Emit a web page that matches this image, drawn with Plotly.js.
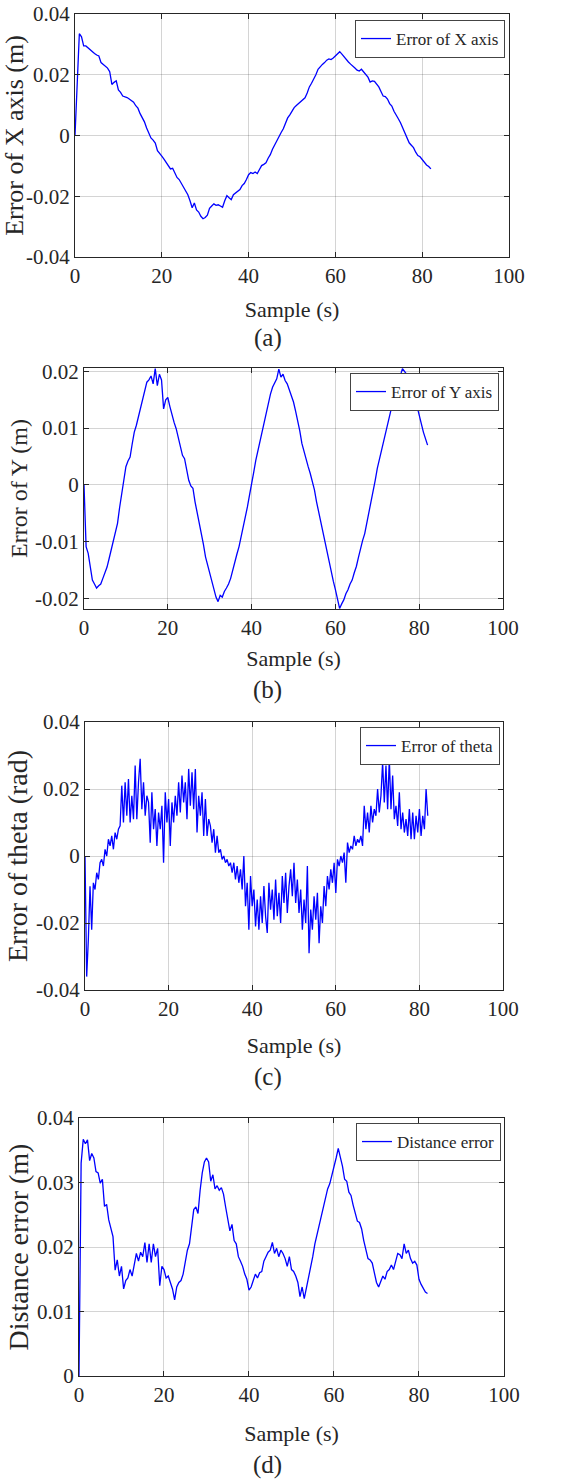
<!DOCTYPE html>
<html><head><meta charset="utf-8">
<script src="https://cdn.plot.ly/plotly-3.0.1.min.js"></script>
<style>html,body{margin:0;padding:0;background:#fff}#chart{width:565px;height:1479px}</style>
</head><body><div id="chart"></div>
<script>
// sample time axis: starts at 0 s; X/Y/distance sampled every 0.5 s, theta every 0.4 s
const sampleStart = 0;
const stepXYD = 0.5;
const stepTheta = 0.4;

const errX = [
  0, 0.020, 0.0335, 0.0325, 0.0295, 0.0295, 0.0288, 0.0282, 0.0276, 0.0270,
  0.0265, 0.0262, 0.0240, 0.0235, 0.0230, 0.0222, 0.0210, 0.0168, 0.0175, 0.0180,
  0.0150, 0.0142, 0.0130, 0.0128, 0.0125, 0.0120, 0.0115, 0.0110, 0.0098, 0.0090,
  0.0072, 0.0060, 0.0045, 0.0025, 0.0010, -0.0008, -0.0015, -0.0025, -0.0050, -0.0058,
  -0.0068, -0.0078, -0.0090, -0.0100, -0.0110, -0.0108, -0.0125, -0.0138, -0.0145, -0.0158,
  -0.0170, -0.0182, -0.0195, -0.0215, -0.0238, -0.0222, -0.0245, -0.0252, -0.0266, -0.0274,
  -0.0270, -0.0262, -0.0240, -0.0232, -0.0225, -0.0230, -0.0228, -0.0232, -0.0236, -0.0215,
  -0.0198, -0.0205, -0.0211, -0.0195, -0.0190, -0.0185, -0.0178, -0.0165, -0.0158, -0.0145,
  -0.0129, -0.0122, -0.0125, -0.0120, -0.0125, -0.0112, -0.0099, -0.0095, -0.0090, -0.0075,
  -0.0063, -0.0045, -0.0030, -0.0015, -0.0002, 0.0010, 0.0022, 0.0040, 0.0058, 0.0068,
  0.0080, 0.0092, 0.0099, 0.0105, 0.0110, 0.0118, 0.0124, 0.0140, 0.0160, 0.0172,
  0.0185, 0.0200, 0.0218, 0.0228, 0.0234, 0.0240, 0.0248, 0.0252, 0.0250, 0.0255,
  0.0262, 0.0272, 0.0276, 0.0268, 0.0258, 0.0250, 0.0242, 0.0235, 0.0230, 0.0222,
  0.0215, 0.0212, 0.0218, 0.0210, 0.0201, 0.0192, 0.0176, 0.0180, 0.0178, 0.0170,
  0.0160, 0.0145, 0.0130, 0.0128, 0.0120, 0.0105, 0.0097, 0.0080, 0.0069, 0.0055,
  0.0042, 0.0025, 0.0009, -0.0008, -0.0024, -0.0032, -0.0040, -0.0055, -0.0066, -0.0070,
  -0.0079, -0.0088, -0.0097, -0.0102, -0.0110
];

const errY = [
  0, -0.0109, -0.0121, -0.0147, -0.0168, -0.0175, -0.0182, -0.0178, -0.0175, -0.0165,
  -0.0156, -0.0145, -0.0130, -0.0115, -0.0097, -0.0085, -0.0068, -0.0040, -0.0015, 0.0005,
  0.0032, 0.0042, 0.0049, 0.0072, 0.0093, 0.0105, 0.0120, 0.0132, 0.0146, 0.0162,
  0.0181, 0.0185, 0.0192, 0.0178, 0.0205, 0.0175, 0.0195, 0.0185, 0.0134, 0.0150,
  0.0154, 0.0138, 0.0123, 0.0110, 0.0099, 0.0085, 0.0070, 0.0052, 0.0046, 0.0025,
  0.0008, -0.0002, -0.0006, -0.0030, -0.0048, -0.0068, -0.0086, -0.0105, -0.0127, -0.0142,
  -0.0156, -0.0172, -0.0185, -0.0198, -0.0206, -0.0195, -0.0198, -0.0188, -0.0182, -0.0175,
  -0.0165, -0.0150, -0.0133, -0.0122, -0.0109, -0.0092, -0.0077, -0.0058, -0.0039, -0.0018,
  0.0000, 0.0022, 0.0043, 0.0060, 0.0079, 0.0098, 0.0114, 0.0130, 0.0146, 0.0160,
  0.0172, 0.0180, 0.0187, 0.0204, 0.0190, 0.0195, 0.0184, 0.0178, 0.0167, 0.0158,
  0.0146, 0.0130, 0.0114, 0.0095, 0.0073, 0.0058, 0.0043, 0.0032, 0.0020, 0.0005,
  -0.0009, -0.0030, -0.0048, -0.0068, -0.0086, -0.0102, -0.0121, -0.0138, -0.0156, -0.0170,
  -0.0185, -0.0200, -0.0218, -0.0210, -0.0203, -0.0192, -0.0185, -0.0175, -0.0168, -0.0155,
  -0.0144, -0.0128, -0.0112, -0.0098, -0.0086, -0.0068, -0.0050, -0.0032, -0.0015, 0.0008,
  0.0029, 0.0045, 0.0061, 0.0078, 0.0096, 0.0112, 0.0128, 0.0140, 0.0155, 0.0168,
  0.0181, 0.0192, 0.0205, 0.0200, 0.0195, 0.0185, 0.0172, 0.0160, 0.0150, 0.0138,
  0.0125, 0.0108, 0.0093, 0.0082, 0.0070
];

const errTheta = [
  0, -0.036, -0.025, -0.009, -0.022, -0.008, -0.010, -0.005, -0.007, -0.002,
  -0.001, -0.003, 0.002, 0.000, 0.005, 0.003, 0.006, 0.002, 0.007, 0.005,
  0.008, 0.009, 0.021, 0.010, 0.022, 0.012, 0.023, 0.010, 0.018, 0.011,
  0.027, 0.011, 0.022, 0.029, 0.014, 0.022, 0.012, 0.018, 0.016, 0.004,
  0.019, 0.008, 0.014, 0.003, 0.013, 0.008, 0.015, -0.002, 0.019, 0.010,
  0.017, 0.003, 0.016, 0.010, 0.018, 0.012, 0.022, 0.013, 0.024, 0.016,
  0.022, 0.011, 0.026, 0.015, 0.025, 0.014, 0.026, 0.007, 0.018, 0.012,
  0.019, 0.006, 0.017, 0.006, 0.011, 0.009, 0.004, 0.008, 0.001, 0.006,
  0.001, 0.002, -0.001, 0.000, -0.002, -0.001, -0.003, -0.002, -0.005, -0.002,
  -0.007, -0.003, -0.008, -0.004, -0.010, 0.000, -0.015, -0.008, -0.022, -0.006,
  -0.015, -0.010, -0.021, -0.013, -0.022, -0.012, -0.020, -0.009, -0.018, -0.023,
  -0.008, -0.016, -0.010, -0.019, -0.007, -0.018, -0.011, -0.020, -0.006, -0.014,
  -0.005, -0.017, -0.009, -0.004, -0.012, -0.002, -0.014, -0.007, -0.017, -0.010,
  -0.022, -0.013, -0.020, -0.003, -0.029, -0.016, -0.022, -0.012, -0.019, -0.011,
  -0.026, -0.015, -0.020, -0.009, -0.015, -0.006, -0.010, -0.004, -0.008, -0.002,
  -0.011, -0.001, -0.003, 0.000, -0.002, 0.001, -0.008, 0.004, 0.001, 0.003,
  0.002, 0.006, 0.003, 0.005, 0.004, 0.006, 0.003, 0.015, 0.008, 0.013,
  0.007, 0.015, 0.010, 0.014, 0.012, 0.020, 0.013, 0.018, 0.028, 0.016,
  0.027, 0.014, 0.029, 0.014, 0.024, 0.011, 0.015, 0.009, 0.019, 0.008,
  0.013, 0.007, 0.011, 0.006, 0.014, 0.005, 0.013, 0.005, 0.012, 0.007,
  0.014, 0.006, 0.012, 0.008, 0.020, 0.012
];

const distErr = [
  0, 0.0330, 0.0367, 0.0360, 0.0366, 0.0334, 0.0345, 0.0338, 0.0317, 0.0315,
  0.0299, 0.0305, 0.0263, 0.0266, 0.0242, 0.0228, 0.0216, 0.0164, 0.0180, 0.0155,
  0.0170, 0.0135, 0.0148, 0.0152, 0.0165, 0.0155, 0.0172, 0.0190, 0.0178, 0.0192,
  0.0185, 0.0207, 0.0176, 0.0205, 0.0176, 0.0205, 0.0185, 0.0198, 0.0140, 0.0170,
  0.0165, 0.0152, 0.0155, 0.0143, 0.0135, 0.0118, 0.0138, 0.0145, 0.0148, 0.0158,
  0.0175, 0.0195, 0.0205, 0.0235, 0.0258, 0.0262, 0.0252, 0.0288, 0.0315, 0.0332,
  0.0338, 0.0332, 0.0302, 0.0312, 0.0290, 0.0295, 0.0288, 0.0292, 0.0282, 0.0262,
  0.0245, 0.0225, 0.0235, 0.0210, 0.0205, 0.0185, 0.0178, 0.0170, 0.0158, 0.0150,
  0.0133, 0.0138, 0.0148, 0.0158, 0.0152, 0.0160, 0.0162, 0.0178, 0.0185, 0.0192,
  0.0195, 0.0207, 0.0190, 0.0198, 0.0185, 0.0195, 0.0190, 0.0182, 0.0170, 0.0185,
  0.0165, 0.0162, 0.0155, 0.0145, 0.0123, 0.0138, 0.0120, 0.0135, 0.0155, 0.0170,
  0.0185, 0.0205, 0.0220, 0.0235, 0.0250, 0.0265, 0.0275, 0.0290, 0.0298, 0.0310,
  0.0322, 0.0338, 0.0353, 0.0340, 0.0325, 0.0305, 0.0302, 0.0285, 0.0280, 0.0265,
  0.0252, 0.0240, 0.0238, 0.0228, 0.0210, 0.0198, 0.0182, 0.0180, 0.0175, 0.0160,
  0.0145, 0.0138, 0.0148, 0.0155, 0.0150, 0.0162, 0.0165, 0.0172, 0.0165, 0.0178,
  0.0190, 0.0188, 0.0182, 0.0205, 0.0190, 0.0195, 0.0182, 0.0175, 0.0178, 0.0172,
  0.0150, 0.0142, 0.0135, 0.0130, 0.0128
];

const seriesNames = ['Error of X axis', 'Error of Y axis', 'Error of theta', 'Distance error'];
const yTitles = ['Error of X axis (m)', 'Error of Y (m)', 'Error of theta (rad)', 'Distance error (m)'];
const xTitle = 'Sample (s)';
const panelLabels = ['(a)', '(b)', '(c)', '(d)'];

const xTickVals = [0, 20, 40, 60, 80, 100];
const xTickText = ['0', '20', '40', '60', '80', '100'];
const yTickValsA = [-0.04, -0.02, 0, 0.02, 0.04];
const yTickTextA = ['-0.04', '-0.02', '0', '0.02', '0.04'];
const yTickValsB = [-0.02, -0.01, 0, 0.01, 0.02];
const yTickTextB = ['-0.02', '-0.01', '0', '0.01', '0.02'];
const yTickValsC = [-0.04, -0.02, 0, 0.02, 0.04];
const yTickTextC = ['-0.04', '-0.02', '0', '0.02', '0.04'];
const yTickValsD = [0, 0.01, 0.02, 0.03, 0.04];
const yTickTextD = ['0', '0.01', '0.02', '0.03', '0.04'];

const FONT = '"Liberation Serif", "Times New Roman", Times, serif';
const INK = '#262626';
const GRID = 'rgba(38,38,38,0.2)';
const BLUE = '#0000ff';

function xAxis(domain, anchor, standoff) {
  return {
    domain: domain, anchor: anchor, range: [0, 100],
    tickvals: xTickVals, ticktext: xTickText,
    showline: true, linecolor: INK, linewidth: 1, mirror: 'ticks',
    ticks: 'inside', ticklen: 5, tickcolor: INK, tickwidth: 1,
    showgrid: true, gridcolor: GRID, gridwidth: 1, zeroline: false,
    tickfont: {family: FONT, size: 21, color: INK},
    title: {text: xTitle, font: {family: FONT, size: 22, color: INK}, standoff: standoff}
  };
}
function yAxis(domain, anchor, range, vals, text, title, tsize) {
  return {
    domain: domain, anchor: anchor, range: range,
    tickvals: vals, ticktext: text,
    showline: true, linecolor: INK, linewidth: 1, mirror: 'ticks',
    ticks: 'inside', ticklen: 5, tickcolor: INK, tickwidth: 1,
    showgrid: true, gridcolor: GRID, gridwidth: 1, zeroline: false,
    tickfont: {family: FONT, size: 21, color: INK},
    title: {text: title, font: {family: FONT, size: tsize, color: INK}, standoff: 0}
  };
}
function legendBox(x, y) {
  return {
    x: x, y: y, xanchor: 'right', yanchor: 'top', xref: 'paper', yref: 'paper',
    bgcolor: '#ffffff', bordercolor: '#444444', borderwidth: 1,
    font: {family: FONT, size: 17, color: INK},
    tracegroupgap: 0, itemwidth: 30
  };
}

const traces = [
  {x0: sampleStart, dx: stepXYD, y: errX, type: 'scatter', mode: 'lines', name: seriesNames[0],
   line: {color: BLUE, width: 1.3}, xaxis: 'x', yaxis: 'y', legend: 'legend'},
  {x0: sampleStart, dx: stepXYD, y: errY, type: 'scatter', mode: 'lines', name: seriesNames[1],
   line: {color: BLUE, width: 1.3}, xaxis: 'x2', yaxis: 'y2', legend: 'legend2'},
  {x0: sampleStart, dx: stepTheta, y: errTheta, type: 'scatter', mode: 'lines', name: seriesNames[2],
   line: {color: BLUE, width: 1.3}, xaxis: 'x3', yaxis: 'y3', legend: 'legend3'},
  {x0: sampleStart, dx: stepXYD, y: distErr, type: 'scatter', mode: 'lines', name: seriesNames[3],
   line: {color: BLUE, width: 1.3}, xaxis: 'x4', yaxis: 'y4', legend: 'legend4'}
];

const layout = {
  width: 565, height: 1479,
  margin: {l: 0, r: 0, t: 0, b: 0},
  paper_bgcolor: '#ffffff', plot_bgcolor: '#ffffff',
  showlegend: true,
  font: {family: FONT, color: INK},
  xaxis:  xAxis([0.13274, 0.90088], 'y', 14),
  yaxis:  yAxis([0.82623, 0.99053], 'x', [-0.04, 0.04], yTickValsA, yTickTextA, yTitles[0], 26),
  xaxis2: xAxis([0.14867, 0.89027], 'y2', 11),
  yaxis2: yAxis([0.58824, 0.75118], 'x2', [-0.0219, 0.0206], yTickValsB, yTickTextB, yTitles[1], 24),
  xaxis3: xAxis([0.15044, 0.89027], 'y3', 17),
  yaxis3: yAxis([0.33063, 0.51183], 'x3', [-0.04, 0.04], yTickValsC, yTickTextC, yTitles[2], 28),
  xaxis4: xAxis([0.13982, 0.89204], 'y4', 19),
  yaxis4: yAxis([0.06964, 0.24408], 'x4', [0, 0.04], yTickValsD, yTickTextD, yTitles[3], 28),
  legend:  legendBox(0.8938, 0.98648),
  legend2: legendBox(0.8832, 0.74780),
  legend3: legendBox(0.8850, 0.50845),
  legend4: legendBox(0.8867, 0.24070),
  annotations: [
    {text: panelLabels[0], x: 0.4743, y: 0.77147},
    {text: panelLabels[1], x: 0.4743, y: 0.53347},
    {text: panelLabels[2], x: 0.4743, y: 0.27181},
    {text: panelLabels[3], x: 0.4743, y: 0.00947}
  ].map(a => Object.assign(a, {xref: 'paper', yref: 'paper', xanchor: 'center', yanchor: 'middle',
      showarrow: false, font: {family: FONT, size: 25, color: INK}}))
};

Plotly.newPlot('chart', traces, layout, {displayModeBar: false, staticPlot: true});
</script>
</body></html>
